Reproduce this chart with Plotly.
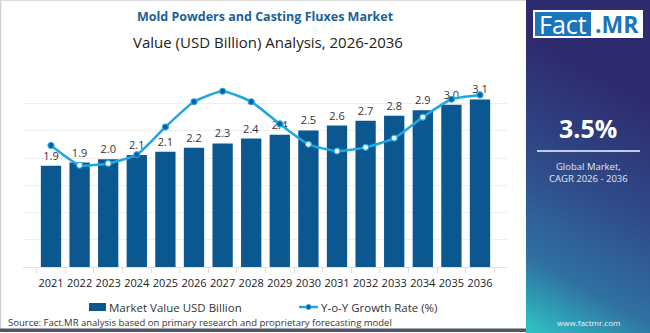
import base64
import plotly.graph_objects as go

# ---------------- data ----------------
years = ["2021", "2022", "2023", "2024", "2025", "2026", "2027", "2028",
         "2029", "2030", "2031", "2032", "2033", "2034", "2035", "2036"]
market_value = [1.86, 1.92, 1.98, 2.06, 2.12, 2.19, 2.27, 2.36,
                2.43, 2.51, 2.60, 2.69, 2.78, 2.88, 2.98, 3.08]
yoy_growth = [3.47, 3.15, 3.18, 3.32, 3.77, 4.18, 4.35, 4.18,
              3.82, 3.49, 3.38, 3.44, 3.59, 3.93, 4.22, 4.29]
title_text = "Mold Powders and Casting Fluxes Market"
subtitle_text = "Value (USD Billion) Analysis, 2026-2036"
bar_name = "Market Value USD Billion"
line_name = "Y-o-Y Growth Rate (%)"
cagr_text = "3.5%"
cagr_caption = "Global Market,<br>CAGR 2026 - 2036"
source_text = "Source: Fact.MR analysis based on primary research and proprietary forecasting model"
site_text = "www.factmr.com"

# ---------------- style ----------------
W, H = 650, 333
FONT = "Open Sans"
BAR_COLOR = "#0b5890"
LINE_COLOR = "#1ea7e1"
MARK_COLOR = "#0f5f9e"
Y1_RANGE = [0, 3.4]
Y2_RANGE = [1.5, 4.5]


def px(x):
    return x / W


def py(y):
    return 1 - y / H


# marker fill: hollow (white) where the point sits over a bar
marker_fill = []
for v, g in zip(market_value, yoy_growth):
    f_bar = (v - Y1_RANGE[0]) / (Y1_RANGE[1] - Y1_RANGE[0])
    f_pt = (g - Y2_RANGE[0]) / (Y2_RANGE[1] - Y2_RANGE[0])
    marker_fill.append("white" if f_pt < f_bar else MARK_COLOR)

fig = go.Figure()
fig.add_trace(go.Bar(
    x=years, y=market_value, name=bar_name,
    marker=dict(color=BAR_COLOR, line=dict(width=0)),
    texttemplate="%{y:.1f}", textposition="outside",
    textfont=dict(family=FONT, size=11, color="#333333"),
    cliponaxis=False, showlegend=False,
))
fig.add_trace(go.Scatter(
    x=years, y=yoy_growth, name=line_name, yaxis="y2",
    mode="lines+markers",
    line=dict(color=LINE_COLOR, width=2.5, shape="spline", smoothing=0.5),
    marker=dict(size=6, color=marker_fill, line=dict(color=LINE_COLOR, width=1.2)),
    cliponaxis=False, showlegend=False,
))

# right panel gradient via SVG data uri
svg = (
    '<svg xmlns="http://www.w3.org/2000/svg" width="124" height="333" '
    'viewBox="0 0 124 333" preserveAspectRatio="none">'
    '<defs><linearGradient id="g" gradientUnits="userSpaceOnUse" x1="0" y1="333" x2="124" y2="100">'
    '<stop offset="0" stop-color="#2fc6c6"/>'
    '<stop offset="0.25" stop-color="#2f72a2"/>'
    '<stop offset="0.6" stop-color="#2f4a88"/>'
    '<stop offset="1" stop-color="#2e2a6e"/>'
    '</linearGradient></defs>'
    '<rect x="0" y="0" width="124" height="333" fill="url(#g)"/></svg>'
)
svg_uri = "data:image/svg+xml;base64," + base64.b64encode(svg.encode()).decode()

shapes = [
    # frame lines
    dict(type="line", xref="paper", yref="paper", x0=px(0.5), x1=px(0.5), y0=py(0), y1=py(329),
         line=dict(color="#d0d0d0", width=1.5)),
    dict(type="line", xref="paper", yref="paper", x0=px(0), x1=px(526), y0=py(0.5), y1=py(0.5),
         line=dict(color="#dcdcdc", width=1)),
    dict(type="rect", xref="paper", yref="paper", x0=px(0), x1=px(526), y0=py(328.5), y1=py(332),
         fillcolor="#4f5766", line=dict(width=0)),
    # logo
    dict(type="rect", xref="paper", yref="paper", x0=px(533), x1=px(643), y0=py(10), y1=py(38),
         fillcolor="white", line=dict(width=0)),
    dict(type="rect", xref="paper", yref="paper", x0=px(535), x1=px(591), y0=py(12), y1=py(36),
         fillcolor="#1b75bb", line=dict(width=0)),
    # separator in panel
    dict(type="line", xref="paper", yref="paper", x0=px(537), x1=px(640), y0=py(151), y1=py(151),
         line=dict(color="#c3cbe0", width=2)),
    # legend
    dict(type="rect", xref="paper", yref="paper", x0=px(89), x1=px(106), y0=py(303), y1=py(311),
         fillcolor=BAR_COLOR, line=dict(width=0)),
    dict(type="line", xref="paper", yref="paper", x0=px(299), x1=px(318), y0=py(307), y1=py(307),
         line=dict(color=LINE_COLOR, width=2.5)),
    dict(type="circle", xref="paper", yref="paper", x0=px(306), x1=px(311), y0=py(304.5), y1=py(309.5),
         fillcolor=MARK_COLOR, line=dict(color=LINE_COLOR, width=1)),
]

annotations = [
    dict(text=f"<b>{title_text}</b>", x=px(265), y=py(17), xref="paper", yref="paper",
         showarrow=False, xanchor="center", yanchor="middle",
         font=dict(family=FONT, size=12.5, color="#1c5f98")),
    dict(text=subtitle_text, x=px(268), y=py(42), xref="paper", yref="paper",
         showarrow=False, xanchor="center", yanchor="middle",
         font=dict(family=FONT, size=15, color="#222222")),
    dict(text="Fact", x=px(563), y=py(24), xref="paper", yref="paper",
         showarrow=False, xanchor="center", yanchor="middle",
         font=dict(family=FONT, size=25, color="white")),
    dict(text="<b>.MR</b>", x=px(617), y=py(24), xref="paper", yref="paper",
         showarrow=False, xanchor="center", yanchor="middle",
         font=dict(family=FONT, size=23, color="#1b75bb")),
    dict(text=f"<b>{cagr_text}</b>", x=px(588), y=py(128), xref="paper", yref="paper",
         showarrow=False, xanchor="center", yanchor="middle",
         font=dict(family=FONT, size=25, color="white")),
    dict(text=cagr_caption, x=px(588), y=py(173), xref="paper", yref="paper",
         showarrow=False, xanchor="center", yanchor="middle",
         font=dict(family=FONT, size=9.5, color="#e2e6f0")),
    dict(text=site_text, x=px(588), y=py(322), xref="paper", yref="paper",
         showarrow=False, xanchor="center", yanchor="middle",
         font=dict(family=FONT, size=8, color="#eef4f6")),
    dict(text=bar_name, x=px(107), y=py(307), xref="paper", yref="paper",
         showarrow=False, xanchor="left", yanchor="middle",
         font=dict(family=FONT, size=11.5, color="#333333")),
    dict(text=line_name, x=px(319), y=py(307), xref="paper", yref="paper",
         showarrow=False, xanchor="left", yanchor="middle",
         font=dict(family=FONT, size=11.5, color="#333333")),
    dict(text=source_text, x=px(6), y=py(322.5), xref="paper", yref="paper",
         showarrow=False, xanchor="left", yanchor="middle",
         font=dict(family=FONT, size=9.5, color="#333333")),
]

fig.update_layout(
    width=W, height=H,
    margin=dict(l=0, r=0, t=0, b=0),
    paper_bgcolor="white", plot_bgcolor="white",
    bargap=0.29,
    font=dict(family=FONT, color="#222222"),
    xaxis=dict(domain=[px(23), px(508)], type="category",
               showgrid=False, showline=True, linecolor="#e2e2e2", linewidth=1,
               ticks="outside", tickson="boundaries", ticklen=5, tickcolor="#e0e0e0",
               tickangle=0, ticklabelstandoff=6,
               tickfont=dict(family=FONT, size=11, color="#222222")),
    yaxis=dict(domain=[py(267), py(82)], range=Y1_RANGE, dtick=0.5,
               showgrid=True, gridcolor="#efefef", gridwidth=1,
               zeroline=False, showticklabels=False, showline=False),
    yaxis2=dict(overlaying="y", range=Y2_RANGE, visible=False, showgrid=False),
    shapes=shapes,
    annotations=annotations,
    images=[dict(source=svg_uri, xref="paper", yref="paper", x=px(526), y=1,
                 sizex=px(124), sizey=1, sizing="stretch",
                 xanchor="left", yanchor="top", layer="below")],
    showlegend=False,
)

fig.write_html("out.html")
